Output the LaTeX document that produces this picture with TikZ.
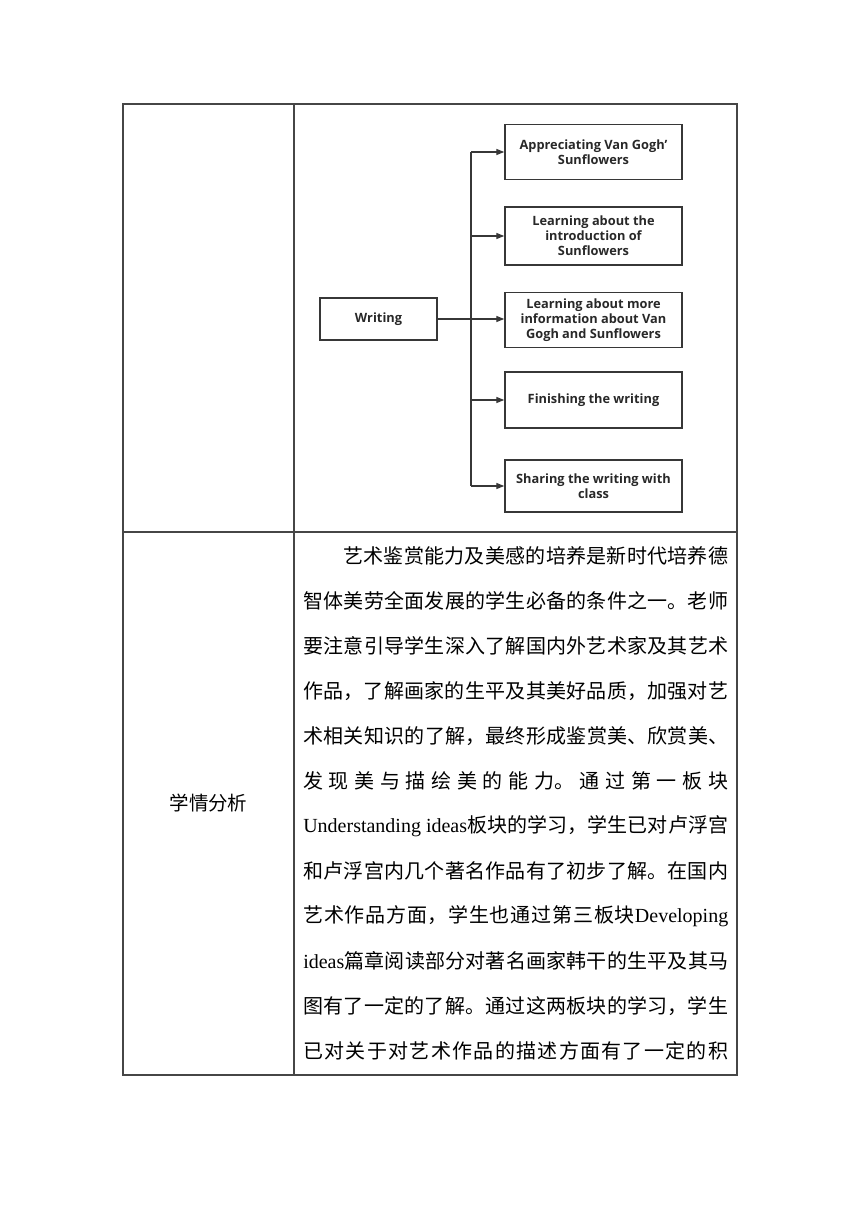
\documentclass[tikz,border=0pt]{standalone}
\usepackage{fontspec}
\usepackage{xcolor}
\usepackage{tikz}
\setmainfont{Liberation Serif}
\newfontfamily\cjk{Noto Sans CJK SC}
\newfontfamily\chartfont{Open Sans}
\usetikzlibrary{arrows.meta,positioning,calc}
\definecolor{inkgray}{RGB}{55,55,55}
\definecolor{textgray}{RGB}{40,40,40}
\definecolor{rulegray}{RGB}{70,70,70}
\XeTeXlinebreaklocale "zh"
\XeTeXlinebreakskip=0pt plus 1fil
\newcommand\lat[1]{{\rmfamily #1}}

\begin{document}
\begin{tikzpicture}[x=0.75pt,y=-0.75pt,
    >={Triangle[length=6pt,width=4.5pt]},
    stepbox/.style={rectangle, draw=inkgray, line width=1.05pt, minimum width=132.75pt, minimum height=41pt, inner sep=1pt, align=center, text=textgray, font=\chartfont\bfseries\fontsize{9.6}{11.25}\selectfont},
    link/.style={draw=inkgray, line width=0.95pt},
    grid/.style={draw=rulegray, line width=0.8pt},
    bodyline/.style={anchor=west, inner sep=0pt, text width=318.75pt, align=justify, font=\cjk\fontsize{15}{20}\selectfont, execute at begin node={\parfillskip=0pt\relax}}
]
    \useasboundingbox (0,0) rectangle (860,1216);

    % table
    \draw[grid] (123,104) rectangle (737,1075);
    \draw[grid] (294,104) -- (294,1075);
    \draw[grid] (123,532) -- (737,532);

    % chart
    \node[stepbox, minimum width=87.75pt, minimum height=31.5pt] (writing) at (378.5,319) {Writing};
    \node[stepbox] (s1) at (593.5,152) {Appreciating Van Gogh’\\Sunflowers};
    \node[stepbox, minimum height=43.5pt] (s2) at (593.5,236) {Learning about the\\introduction of\\Sunflowers};
    \node[stepbox] (s3) at (593.5,320) {Learning about more\\information about Van\\Gogh and Sunflowers};
    \node[stepbox, minimum height=42pt] (s4) at (593.5,400) {Finishing the writing};
    \node[stepbox, minimum height=39pt] (s5) at (593.5,486) {Sharing the writing with\\class};
    \coordinate (trunk) at (471,320);

    \draw[link, ->] (writing.east) -- (writing.east -| s3.west);
    \draw[link] (trunk |- s1.west) -- (trunk |- s5.west);
    \foreach \n in {1,2,4,5}
        \draw[link, ->] (trunk |- s\n.west) -- (s\n.west);

    % analysis
    \node[font=\cjk\fontsize{14.6}{18}\selectfont] (label) at (208.5,803) {学情分析};
    \node[bodyline] (l1) at (303,556) {\hspace*{2em}艺术鉴赏能力及美感的培养是新时代培养德};
    \node[bodyline] (l2) at (303,601) {智体美劳全面发展的学生必备的条件之一。老师};
    \node[bodyline] (l3) at (303,646) {要注意引导学生深入了解国内外艺术家及其艺术};
    \node[bodyline] (l4) at (303,691) {作品，了解画家的生平及其美好品质，加强对艺};
    \node[bodyline] (l5) at (303,736) {术相关知识的了解，最终形成鉴赏美、欣赏美、};
    \node[bodyline] (l6) at (303,781) {发现美与描绘美的能力。通过第一板块};
    \node[bodyline] (l7) at (303,826) {\lat{Understanding ideas}板块的学习，学生已对卢浮宫};
    \node[bodyline] (l8) at (303,871) {和卢浮宫内几个著名作品有了初步了解。在国内};
    \node[bodyline] (l9) at (303,916) {艺术作品方面，学生也通过第三板块\lat{Developing}};
    \node[bodyline] (l10) at (303,961) {\lat{ideas}篇章阅读部分对著名画家韩干的生平及其马};
    \node[bodyline] (l11) at (303,1006) {图有了一定的了解。通过这两板块的学习，学生};
    \node[bodyline] (l12) at (303,1051) {已对关于对艺术作品的描述方面有了一定的积};
\end{tikzpicture}
\end{document}
